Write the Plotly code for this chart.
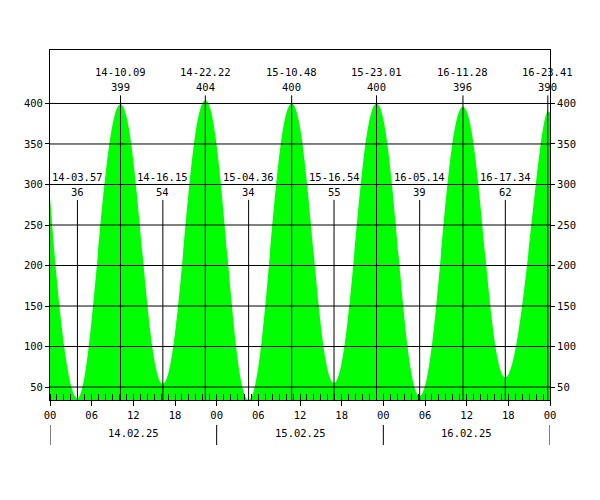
import plotly.graph_objects as go

# ---- data ----
tide_days = [14, 14, 14, 14, 15, 15, 15, 15, 16, 16, 16, 16]
tide_times = ["03.57", "10.09", "16.15", "22.22", "04.36", "10.48",
              "16.54", "23.01", "05.14", "11.28", "17.34", "23.41"]
tide_levels = [36, 399, 54, 404, 34, 400, 55, 400, 39, 396, 62, 390]
tide_kind = ["L", "H", "L", "H", "L", "H", "L", "H", "L", "H", "L", "H"]
edge_hours = [0, 72]
edge_levels = [285, 389]
date_labels = ["14.02.25", "15.02.25", "16.02.25"]
hour_ticks = list(range(0, 73, 6))
hour_text = ["%02d" % (h % 24) for h in hour_ticks]
level_ticks = [50, 100, 150, 200, 250, 300, 350, 400]

FIRST_DAY = 14
Y_MIN, Y_MAX = 34, 466
FONT = dict(family="DejaVu Sans Mono", size=10.5, color="black")

def to_hours(day, hhmm):
    h, m = hhmm.split(".")
    return (day - FIRST_DAY) * 24 + int(h) + int(m) / 60.0

tide_hours = [to_hours(d, t) for d, t in zip(tide_days, tide_times)]

curve_x = [edge_hours[0]] + tide_hours + [edge_hours[1]]
curve_y = [edge_levels[0]] + tide_levels + [edge_levels[1]]

fig = go.Figure()
fig.add_trace(go.Scatter(
    x=curve_x, y=curve_y, mode="lines",
    line=dict(width=0, shape="spline", smoothing=1.2, color="#00ff00"),
    fill="tozeroy", fillcolor="#00ff00", hoverinfo="skip", showlegend=False))

# vertical marker lines
HIGH_TOP, LOW_TOP = 410, 281
for kind, top in (("H", HIGH_TOP), ("L", LOW_TOP)):
    xs, ys = [], []
    for t, k in zip(tide_hours, tide_kind):
        if k == kind:
            xs += [t, t, None]
            ys += [Y_MIN, top, None]
    fig.add_trace(go.Scatter(x=xs, y=ys, mode="lines",
                             line=dict(color="black", width=1),
                             hoverinfo="skip", showlegend=False))

# invisible trace for right axis
fig.add_trace(go.Scatter(x=curve_x, y=curve_y, yaxis="y2", mode="lines",
                         line=dict(width=0), opacity=0, hoverinfo="skip",
                         showlegend=False))

annotations = []
for d, tt, v, t, k in zip(tide_days, tide_times, tide_levels, tide_hours, tide_kind):
    if k == "H":
        yt, yv = 438.5, 420.5
    else:
        yt, yv = 309, 290.5
    annotations.append(dict(x=t, y=yt, text="%d-%s" % (d, tt), showarrow=False,
                            font=FONT, xanchor="center", yanchor="middle"))
    annotations.append(dict(x=t, y=yv, text=str(v), showarrow=False,
                            font=FONT, xanchor="center", yanchor="middle"))
for i, lab in enumerate(date_labels):
    annotations.append(dict(x=24 * i + 12, y=-0.094, yref="paper", text=lab,
                            showarrow=False, font=FONT, xanchor="center",
                            yanchor="middle"))

shapes = []
for lv in level_ticks:
    shapes.append(dict(type="line", xref="paper", x0=0, x1=1, yref="y",
                       y0=lv, y1=lv, line=dict(color="black", width=1),
                       layer="above"))
for i in range(len(date_labels) + 1):
    shapes.append(dict(type="line", xref="x", x0=24 * i, x1=24 * i,
                       yref="paper", y0=-0.0714, y1=-0.1286,
                       line=dict(color="black", width=1)))

axis_common = dict(showgrid=False, zeroline=False, showline=True,
                   linecolor="black", linewidth=1, tickfont=FONT,
                   ticks="outside", tickcolor="black", ticklen=4)

fig.update_layout(
    width=600, height=500,
    margin=dict(l=42, r=58, t=42, b=108),
    paper_bgcolor="white", plot_bgcolor="white",
    xaxis=dict(range=[0, 72], tickvals=hour_ticks, ticktext=hour_text,
               mirror=True, ticklen=5,
               minor=dict(dtick=1, tick0=0, ticks="inside", ticklen=6,
                          tickcolor="black", showgrid=False),
               **{k: v for k, v in axis_common.items() if k != "ticklen"}),
    yaxis=dict(range=[Y_MIN, Y_MAX], tickvals=level_ticks, **axis_common),
    yaxis2=dict(range=[Y_MIN, Y_MAX], tickvals=level_ticks, overlaying="y",
                side="right", **axis_common),
    annotations=annotations, shapes=shapes, showlegend=False,
)

fig.write_html("out.html")
